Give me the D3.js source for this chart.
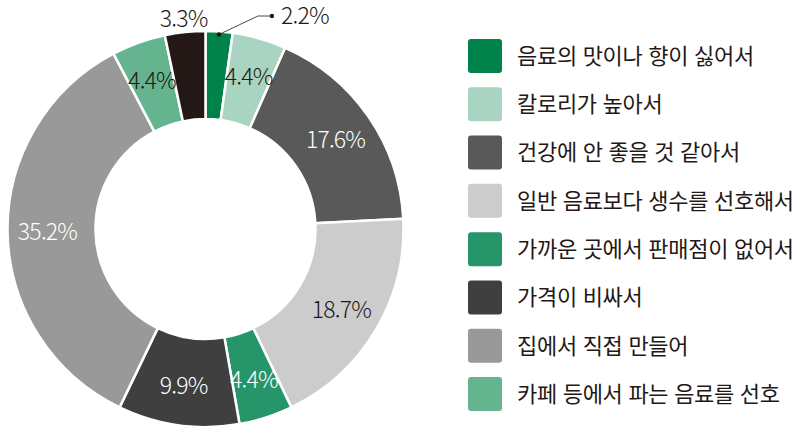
<!DOCTYPE html>
<html lang="ko">
<head>
<meta charset="utf-8">
<script src="https://cdn.jsdelivr.net/npm/d3@7/dist/d3.min.js"></script>
<style>
  html, body { margin: 0; padding: 0; background: #ffffff; }
  svg { display: block; }
  text { font-family: "Noto Sans CJK KR", "Noto Sans", sans-serif; }
</style>
</head>
<body>
<svg id="chart" width="801" height="429"></svg>
<script>
// Reasons for not buying drinks (share of respondents, %)
const categories = [
  "음료의 맛이나 향이 싫어서",
  "칼로리가 높아서",
  "건강에 안 좋을 것 같아서",
  "일반 음료보다 생수를 선호해서",
  "가까운 곳에서 판매점이 없어서",
  "가격이 비싸서",
  "집에서 직접 만들어",
  "카페 등에서 파는 음료를 선호",
  "기타"
];
const values = [2.2, 4.4, 17.6, 18.7, 4.4, 9.9, 35.2, 4.4, 3.3];
const colors = ["#00834a", "#a8d4c1", "#595959", "#cccccc", "#27956a", "#3f3f3f", "#999999", "#64b490", "#231815"];
const labelColors = ["#231815", "#231815", "#ffffff", "#231815", "#ffffff", "#ffffff", "#ffffff", "#231815", "#231815"];
const legendItems = categories.slice(0, 8);

const svg = d3.select("#chart");
const cx = 205.5, cy = 229, rOuter = 198, rInner = 110;

const pie = d3.pie().sort(null).value(d => d.value);
const arcs = pie(categories.map((c, i) => ({ category: c, value: values[i], i })));

const arc = d3.arc().innerRadius(rInner).outerRadius(rOuter);
const labelArc = d3.arc().innerRadius(158).outerRadius(158);
const outerLabelArc = d3.arc().innerRadius(211).outerRadius(211);

const g = svg.append("g").attr("transform", `translate(${cx},${cy})`);

g.selectAll("path.slice")
  .data(arcs)
  .join("path")
  .attr("class", "slice")
  .attr("d", arc)
  .attr("fill", d => colors[d.data.i])
  .attr("stroke", "#ffffff")
  .attr("stroke-width", 2.5)
  .attr("stroke-linejoin", "miter");

// slices too thin for an inside label
const outside = new Set([0, 8]);

const labelFont = 23;
const labelSpacing = -0.8;
g.selectAll("text.inlabel")
  .data(arcs.filter(d => !outside.has(d.data.i)))
  .join("text")
  .attr("class", "inlabel")
  .attr("transform", d => `translate(${labelArc.centroid(d)})`)
  .attr("text-anchor", "middle")
  .attr("dy", "0.36em")
  .attr("font-size", labelFont)
  .attr("font-weight", 300)
  .attr("letter-spacing", labelSpacing)
  .attr("fill", d => labelColors[d.data.i])
  .text(d => d.data.value.toFixed(1) + "%");

// last slice: label sits just above the ring
const last = arcs[8];
g.append("text")
  .attr("transform", `translate(${outerLabelArc.centroid(last)})`)
  .attr("text-anchor", "middle")
  .attr("dy", "0.36em")
  .attr("font-size", labelFont)
  .attr("font-weight", 300)
  .attr("letter-spacing", labelSpacing)
  .attr("fill", labelColors[8])
  .text(last.data.value.toFixed(1) + "%");

// first slice: leader line out to the right
const first = arcs[0];
const anchorPt = d3.arc().innerRadius(195).outerRadius(195).centroid(first);
const elbow = [anchorPt[0] + 39, -213];
const endPt = [elbow[0] + 14, elbow[1]];
g.append("polyline")
  .attr("points", [anchorPt, elbow, endPt].map(p => p.join(",")).join(" "))
  .attr("fill", "none")
  .attr("stroke", "#231815")
  .attr("stroke-width", 0.8);
g.selectAll("circle.lead")
  .data([anchorPt, endPt])
  .join("circle")
  .attr("class", "lead")
  .attr("cx", d => d[0])
  .attr("cy", d => d[1])
  .attr("r", 2.2)
  .attr("fill", "#231815");
g.append("text")
  .attr("x", endPt[0] + 9)
  .attr("y", endPt[1])
  .attr("dy", "0.36em")
  .attr("font-size", labelFont)
  .attr("font-weight", 300)
  .attr("letter-spacing", labelSpacing)
  .attr("fill", labelColors[0])
  .text(first.data.value.toFixed(1) + "%");

// legend
const legendY = d3.scalePoint()
  .domain(legendItems)
  .range([56, 394]);

const legend = svg.append("g");
const rows = legend.selectAll("g.row")
  .data(legendItems)
  .join("g")
  .attr("class", "row")
  .attr("transform", d => `translate(468,${legendY(d)})`);

rows.append("rect")
  .attr("x", 0)
  .attr("y", -17)
  .attr("width", 34)
  .attr("height", 34)
  .attr("rx", 3)
  .attr("fill", (d, i) => colors[i]);

rows.append("text")
  .attr("x", 49)
  .attr("y", 0)
  .attr("dy", "0.36em")
  .attr("font-size", 22)
  .attr("letter-spacing", -0.3)
  .attr("fill", "#231815")
  .text(d => d);
</script>
</body>
</html>
